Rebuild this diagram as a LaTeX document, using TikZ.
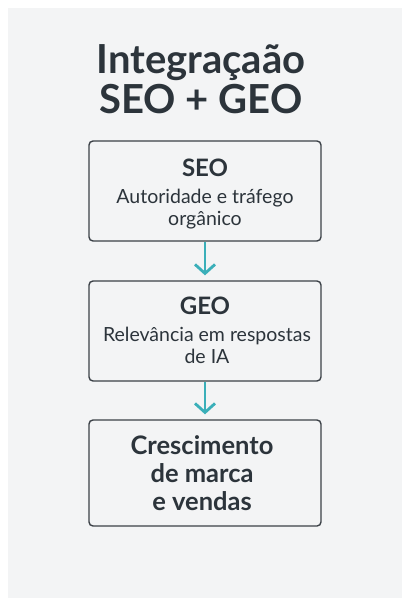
\documentclass[tikz,border=0pt]{standalone}
\usepackage{fontspec}
\setmainfont{Lato}
\usetikzlibrary{arrows.meta}
\definecolor{txt}{HTML}{2C343B}
\definecolor{panel}{HTML}{F3F4F5}
\definecolor{edge}{HTML}{3B4147}
\definecolor{teal}{HTML}{3AAFB9}
\tikzset{
  x=1pt,y=1pt,
  stepbox/.style={draw=edge,line width=1.4pt,rounded corners=4pt,fill=panel,minimum width=232pt,text=txt,align=center,inner sep=0pt},
  flow/.style={draw=teal,line width=2.8pt,-{Straight Barb[length=9pt,width=20pt,line width=2.8pt]},shorten >=5pt},
  ttl/.style={font=\fontsize{40}{40}\selectfont\bfseries,text=txt,align=center},
  head/.style={font=\fontsize{24}{26}\selectfont\bfseries},
  sub/.style={font=\fontsize{19.5}{22}\selectfont},
}
\begin{document}
\begin{tikzpicture}
\useasboundingbox (0,0) rectangle (410,-606);
\fill[white] (0,0) rectangle (410,-606);
\fill[panel] (8,-8) rectangle (402,-598);
\node[ttl,anchor=base] (title) at (201,-113) {Integraçaão\\SEO + GEO};
\node[stepbox,minimum height=100pt] (seo) at (205,-191) {};
\node[text=txt,head,anchor=base] (seoh) at (205,-176) {SEO};
\node[text=txt,sub,align=center,anchor=base] (seos) at (205,-225) {Autoridade e tráfego\\orgânico};
\node[stepbox,minimum height=100pt] (geo) at (205,-331) {};
\node[text=txt,head,anchor=base] (geoh) at (205,-314) {GEO};
\node[text=txt,sub,align=center,anchor=base] (geos) at (207,-363) {Relevância em respostas\\de IA};
\node[stepbox,minimum height=106pt] (res) at (205,-473) {};
\node[text=txt,font=\fontsize{25.5}{28}\selectfont\bfseries,align=center,anchor=base] (resl) at (202,-510) {Crescimento\\de marca\\e vendas};
\draw[flow] (seo.south) -- (geo.north);
\draw[flow] (geo.south) -- (res.north);
\end{tikzpicture}
\end{document}
